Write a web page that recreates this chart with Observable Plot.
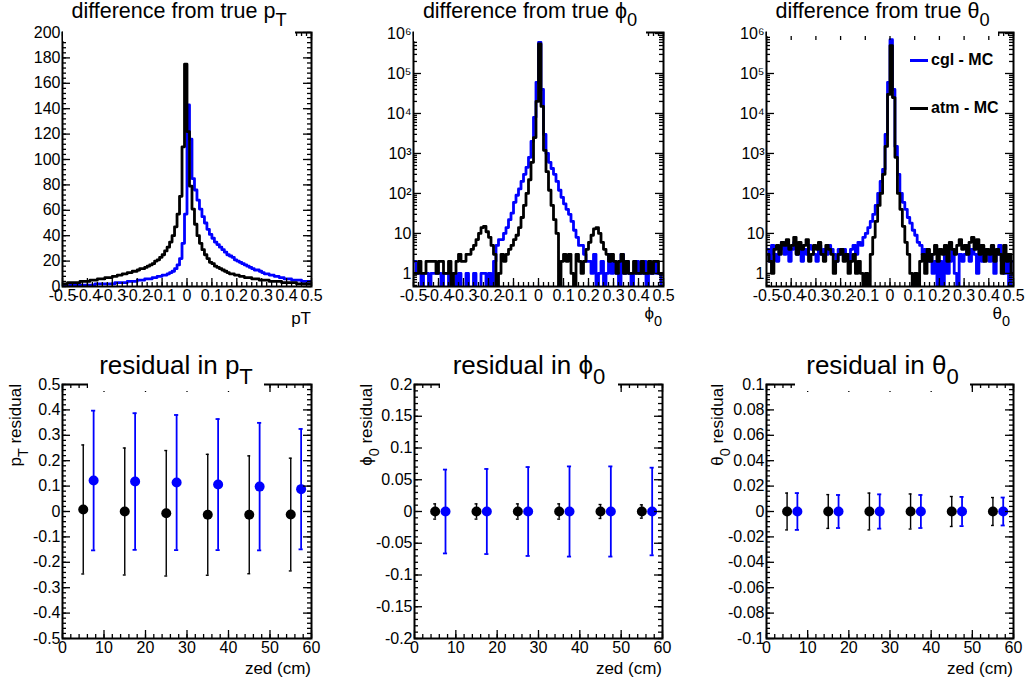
<!DOCTYPE html>
<html><head><meta charset="utf-8">
<script src="https://cdn.jsdelivr.net/npm/d3@7"></script>
<script src="https://cdn.jsdelivr.net/npm/@observablehq/plot@0.6"></script>
<style>
html,body{margin:0;padding:0;background:#fff;}
#root{position:relative;width:1026px;height:684px;overflow:hidden;background:#fff;font-family:"Liberation Sans",Arial,Helvetica,sans-serif;color:#000;}
#root svg{position:absolute;}
#root svg text{font-size:16px !important;font-family:"Liberation Sans",Arial,Helvetica,sans-serif;fill:#000;}
.lab{position:absolute;white-space:nowrap;z-index:3;color:#000;}
.title{position:absolute;background:#fff;z-index:2;text-align:center;white-space:nowrap;color:#000;}
.sub{font-size:0.85em;position:relative;top:0.45em;}
.ylab{position:absolute;z-index:3;white-space:nowrap;font-size:17px;line-height:18px;width:120px;text-align:right;transform-origin:0 0;transform:rotate(-90deg);}
.leg{position:absolute;z-index:3;font-weight:bold;font-size:16px;line-height:18px;white-space:nowrap;}
.legline{position:absolute;z-index:3;height:3px;width:18px;}
</style></head><body>
<div id="root">
  <div class="title" style="left:63px;top:0;width:232px;height:41px;font-size:21.5px;line-height:22px;">difference from true p<span class="sub">T</span></div>
  <div class="title" style="left:414px;top:0;width:232px;height:41px;font-size:21.5px;line-height:22px;">difference from true ϕ<span class="sub">0</span></div>
  <div class="title" style="left:767px;top:0;width:231px;height:36px;font-size:21.5px;line-height:22px;">difference from true θ<span class="sub">0</span></div>

  <div class="title" style="left:88px;top:340px;width:176px;height:51px;font-size:26px;line-height:28px;"><div style="padding-top:11px">residual in p<span class="sub">T</span></div></div>
  <div class="title" style="left:440px;top:340px;width:178px;height:55px;font-size:26px;line-height:28px;"><div style="padding-top:11px">residual in ϕ<span class="sub">0</span></div></div>
  <div class="title" style="left:795px;top:340px;width:175px;height:51px;font-size:26px;line-height:28px;"><div style="padding-top:11px">residual in θ<span class="sub">0</span></div></div>

  <div class="lab" style="right:715px;top:311px;font-size:17px;line-height:16px;">pT</div>
  <div class="lab" style="right:364px;top:306px;font-size:17px;line-height:16px;">ϕ<span class="sub">0</span></div>
  <div class="lab" style="right:16px;top:306px;font-size:17px;line-height:16px;">θ<span class="sub">0</span></div>

  <div class="lab" style="right:715px;top:661px;font-size:17px;line-height:16px;">zed (cm)</div>
  <div class="lab" style="right:364px;top:661px;font-size:17px;line-height:16px;">zed (cm)</div>
  <div class="lab" style="right:13px;top:661px;font-size:17px;line-height:16px;">zed (cm)</div>

  <div class="ylab" style="left:7px;top:504px;">p<span class="sub">T</span> residual</div>
  <div class="ylab" style="left:358px;top:504px;">ϕ<span class="sub">0</span> residual</div>
  <div class="ylab" style="left:709px;top:504px;">θ<span class="sub">0</span> residual</div>

  <div class="legline" style="left:910px;top:59px;background:#0000ff;"></div>
  <div class="leg" style="left:931px;top:51px;">cgl - MC</div>
  <div class="legline" style="left:910px;top:107px;background:#000;"></div>
  <div class="leg" style="left:931px;top:99px;">atm - MC</div>
</div>
<script>
// ---------------- DATA ----------------
// histogram bins: 100 bins of width 0.01 from -0.5 to 0.5
const binWidth = 0.01;
const binStart = -0.5;
const nBins = 100;

// difference from true pT
const cgl_pT = [
  0,0,0,1,1,1,1,1,1,1,
  1,1,1,2,2,2,2,2,2,2,
  2,3,3,3,3,3,4,4,4,4,
  5,5,5,6,6,6,7,7,8,8,
  9,9,10,11,12,14,17,22,34,57,
  143,116,85,76,68,61,55,50,45,41,
  38,35,33,31,29,27,25,24,23,21,
  20,19,18,17,16,15,14,13,13,12,
  11,10,10,9,9,8,8,7,7,6,
  6,6,5,5,5,5,4,4,4,4];
const atm_pT = [
  2,2,3,3,3,3,3,4,4,4,
  4,5,5,5,6,6,6,7,7,7,
  8,8,9,9,10,10,11,11,12,12,
  13,14,14,15,16,17,18,20,21,23,
  25,28,31,35,40,47,57,71,110,175,
  122,79,61,49,40,34,29,25,22,19,
  18,16,15,14,13,12,11,10,10,9,
  9,8,8,7,7,7,6,6,6,5,
  5,5,5,4,4,4,4,4,3,3,
  3,3,3,3,2,2,2,2,2,2];

// difference from true phi0
const cgl_phi = [
  2,1,1,0,1,1,0,1,1,1,
  1,0,1,1,0,1,1,0,1,0,
  0,1,0,0,1,0,0,1,1,0,
  1,0,2,5,7,7,10,14,22,32,
  60,90,130,200,300,450,800,2000,8000,60000,
  600000,40000,3000,1000,600,420,300,200,120,80,
  55,40,30,20,12,8,5,5,3,2,
  2,1,3,0,1,2,0,1,3,1,
  2,1,0,3,1,2,1,0,1,2,
  1,1,2,0,1,1,2,1,1,0];
const atm_phi = [
  1,1,2,1,1,2,2,2,2,1,
  2,2,1,1,2,0,1,2,3,2,
  2,3,3,4,5,7,10,14,15,11,
  8,5,3,0,1,3,2,3,4,5,
  7,9,14,25,50,100,220,600,2500,20000,
  550000,15000,1200,350,120,50,22,10,0,2,
  3,2,3,1,0,3,2,1,2,4,
  6,9,13,14,10,6,4,3,2,3,
  2,1,2,3,1,2,1,1,2,1,
  1,2,1,1,2,1,2,2,1,1];

// difference from true theta0
const cgl_theta = [
  4,2,5,3,2,4,6,3,5,2,
  4,6,3,5,2,4,3,5,4,3,
  2,5,3,4,3,5,4,3,2,4,
  3,4,3,2,4,5,3,6,5,8,
  10,14,20,30,50,100,200,400,3000,60000,
  700000,40000,1500,300,100,60,40,25,18,12,
  9,6,5,3,4,2,3,1,2,0,
  2,0,3,1,2,4,1,0,3,2,
  3,5,2,4,3,1,5,2,4,3,
  2,4,1,3,5,2,1,3,0,2];
const atm_theta = [
  3,2,1,4,5,3,6,5,7,4,
  5,8,3,6,4,5,7,2,3,5,
  4,6,3,2,5,4,3,1,2,3,
  4,2,3,1,2,3,1,2,1,0,
  1,0,3,8,20,50,100,300,1500,30000,
  500000,25000,800,100,40,15,6,3,1,0,
  1,0,2,3,1,4,2,3,5,2,
  4,3,5,2,6,4,3,5,7,4,
  5,3,6,8,4,7,3,5,2,4,
  3,5,2,4,3,1,5,2,3,1];

// residuals vs zed
const zedAtm = [5, 15, 25, 35, 45, 55];
const zedCgl = [7.5, 17.5, 27.5, 37.5, 47.5, 57.5];
const ptAtmMean = [0.008, 0.0, -0.007, -0.013, -0.013, -0.012];
const ptAtmErr  = [0.254, 0.25, 0.247, 0.238, 0.232, 0.222];
const ptCglMean = [0.122, 0.118, 0.114, 0.106, 0.098, 0.088];
const ptCglErr  = [0.275, 0.269, 0.266, 0.258, 0.251, 0.237];
const phiAtmMean = [0, 0, 0, 0, 0, 0];
const phiAtmErr  = [0.012, 0.012, 0.012, 0.012, 0.011, 0.0105];
const phiCglMean = [0, 0, 0, 0, 0, 0];
const phiCglErr  = [0.066, 0.067, 0.070, 0.071, 0.071, 0.069];
const thetaAtmMean = [0, 0, 0, 0, 0, 0];
const thetaAtmErr  = [0.0145, 0.0133, 0.0145, 0.0138, 0.0118, 0.011];
const thetaCglMean = [0, 0, 0, 0, 0, 0];
const thetaCglErr  = [0.0145, 0.013, 0.0135, 0.013, 0.0115, 0.011];

// tick labels
const histXTicks = [-0.5,-0.4,-0.3,-0.2,-0.1,0,0.1,0.2,0.3,0.4,0.5];
const ptYTicks = [0,20,40,60,80,100,120,140,160,180,200];
const logYTicks = [1,10,100,1000,10000,100000,1000000];
const zedTicks = [0,10,20,30,40,50,60];
const ptResTicks = [-0.5,-0.4,-0.3,-0.2,-0.1,0,0.1,0.2,0.3,0.4,0.5];
const phiResTicks = [-0.2,-0.15,-0.1,-0.05,0,0.05,0.1,0.15,0.2];
const thetaResTicks = [-0.1,-0.08,-0.06,-0.04,-0.02,0,0.02,0.04,0.06,0.08,0.1];

const BLUE = "#0000ff";
const BLACK = "#000000";
const FONT = '"Liberation Sans", Arial, Helvetica, sans-serif';

// ---------------- HELPERS ----------------
const r = (v) => +v.toFixed(5);
const minorRange = (a, b, step) => d3.range(0, Math.round((b - a) / step) + 1).map(i => r(a + i * step));
const logMinor = [0.5,0.6,0.7,0.8,0.9].concat(...d3.range(0, 6).map(k => d3.range(2, 10).map(m => m * Math.pow(10, k))));
const sup = {"2":"²","3":"³","4":"⁴","5":"⁵","6":"⁶"};
const logFmt = d => d === 1 ? "1" : d === 10 ? "10" : "10" + sup[String(Math.round(Math.log10(d)))];
const numFmt = d => String(r(d));

function histPoints(values, floor) {
  const pts = [];
  values.forEach((v, i) => {
    const lo = binStart + i * binWidth;
    const y = Math.max(v, floor);
    pts.push({x: r(lo), y});
    pts.push({x: r(lo + binWidth), y});
  });
  return pts;
}

function errMarks(zs, means, errs, color, sw, capHalf) {
  const data = zs.map((z, i) => ({z, m: means[i], e: errs[i]}));
  return [
    Plot.ruleX(data, {x: "z", y1: d => d.m - d.e, y2: d => d.m + d.e, stroke: color, strokeWidth: sw}),
    Plot.ruleY(data, {y: d => d.m + d.e, x1: d => d.z - capHalf, x2: d => d.z + capHalf, stroke: color, strokeWidth: sw}),
    Plot.ruleY(data, {y: d => d.m - d.e, x1: d => d.z - capHalf, x2: d => d.z + capHalf, stroke: color, strokeWidth: sw}),
    Plot.dot(data, {x: "z", y: "m", r: 5, fill: color, stroke: null})
  ];
}

const root = document.getElementById("root");

function panel(cfg) {
  const mL = 60, mR = 14, mT = 8, mB = 30;
  const fw = cfg.fw, fh = 254;
  const MAJ = 8, MIN = 4;
  const tickStyle = {stroke: BLACK, strokeWidth: 1.3};
  const marks = [
    ...cfg.marks,
    Plot.tickX(cfg.xMinor, {x: d => d, insetTop: fh - MIN, ...tickStyle}),
    Plot.tickX(cfg.xMinor, {x: d => d, insetBottom: fh - MIN, ...tickStyle}),
    Plot.tickX(cfg.xMajor, {x: d => d, insetTop: fh - MAJ, ...tickStyle}),
    Plot.tickX(cfg.xMajor, {x: d => d, insetBottom: fh - MAJ, ...tickStyle}),
    Plot.tickY(cfg.yMinor, {y: d => d, insetRight: fw - MIN, ...tickStyle}),
    Plot.tickY(cfg.yMinor, {y: d => d, insetLeft: fw - MIN, ...tickStyle}),
    Plot.tickY(cfg.yMajor, {y: d => d, insetRight: fw - MAJ, ...tickStyle}),
    Plot.tickY(cfg.yMajor, {y: d => d, insetLeft: fw - MAJ, ...tickStyle}),
    Plot.frame({stroke: BLACK, strokeWidth: 2}),
    Plot.axisX(cfg.xMajor, {tickSize: 0, tickPadding: 3, tickFormat: cfg.xFmt, fontSize: 16, label: null}),
    Plot.axisY(cfg.yMajor, {tickSize: 0, tickPadding: 2, tickFormat: cfg.yFmt, fontSize: 16, label: null})
  ];
  const svg = Plot.plot({
    width: fw + mL + mR, height: fh + mT + mB,
    marginLeft: mL, marginRight: mR, marginTop: mT, marginBottom: mB,
    x: {domain: cfg.xDomain},
    y: {type: cfg.yType || "linear", domain: cfg.yDomain},
    style: {fontFamily: FONT, fontSize: "16px", color: "black", background: "transparent", overflow: "visible"},
    marks
  });
  svg.style.left = (cfg.left - mL) + "px";
  svg.style.top = (cfg.top - mT) + "px";
  root.appendChild(svg);
}

const histXMinor = minorRange(-0.5, 0.5, 0.02);
const LOG_DOMAIN = [0.47, 1.06e6];

// top-left: pT difference
panel({
  left: 62, top: 32, fw: 249,
  xDomain: [-0.5, 0.5], yDomain: [0, 200],
  xMajor: histXTicks, xMinor: histXMinor, xFmt: numFmt,
  yMajor: ptYTicks, yMinor: minorRange(0, 200, 4), yFmt: numFmt,
  marks: [
    Plot.line(histPoints(cgl_pT, 0), {x: "x", y: "y", stroke: BLUE, strokeWidth: 2.8, clip: true}),
    Plot.line(histPoints(atm_pT, 0), {x: "x", y: "y", stroke: BLACK, strokeWidth: 2.8, clip: true})
  ]
});

// top-middle: phi0 difference
panel({
  left: 413, top: 32, fw: 250,
  xDomain: [-0.5, 0.5], yDomain: LOG_DOMAIN, yType: "log",
  xMajor: histXTicks, xMinor: histXMinor, xFmt: numFmt,
  yMajor: logYTicks, yMinor: logMinor, yFmt: logFmt,
  marks: [
    Plot.line(histPoints(cgl_phi, 0.2), {x: "x", y: "y", stroke: BLUE, strokeWidth: 2.8, clip: true}),
    Plot.line(histPoints(atm_phi, 0.2), {x: "x", y: "y", stroke: BLACK, strokeWidth: 2.8, clip: true})
  ]
});

// top-right: theta0 difference
panel({
  left: 766, top: 32, fw: 247,
  xDomain: [-0.5, 0.5], yDomain: LOG_DOMAIN, yType: "log",
  xMajor: histXTicks, xMinor: histXMinor, xFmt: numFmt,
  yMajor: logYTicks, yMinor: logMinor, yFmt: logFmt,
  marks: [
    Plot.line(histPoints(cgl_theta, 0.2), {x: "x", y: "y", stroke: BLUE, strokeWidth: 2.8, clip: true}),
    Plot.line(histPoints(atm_theta, 0.2), {x: "x", y: "y", stroke: BLACK, strokeWidth: 2.8, clip: true})
  ]
});

const zedMinor = minorRange(0, 60, 2);

// bottom-left: pT residual
panel({
  left: 62, top: 384, fw: 249,
  xDomain: [0, 60], yDomain: [-0.5, 0.5],
  xMajor: zedTicks, xMinor: zedMinor, xFmt: numFmt,
  yMajor: ptResTicks, yMinor: minorRange(-0.5, 0.5, 0.02), yFmt: numFmt,
  marks: [
    ...errMarks(zedAtm, ptAtmMean, ptAtmErr, BLACK, 1.4, 0.35),
    ...errMarks(zedCgl, ptCglMean, ptCglErr, BLUE, 1.8, 0.5)
  ]
});

// bottom-middle: phi0 residual
panel({
  left: 414, top: 384, fw: 248,
  xDomain: [0, 60], yDomain: [-0.2, 0.2],
  xMajor: zedTicks, xMinor: zedMinor, xFmt: numFmt,
  yMajor: phiResTicks, yMinor: minorRange(-0.2, 0.2, 0.01), yFmt: numFmt,
  marks: [
    ...errMarks(zedAtm, phiAtmMean, phiAtmErr, BLACK, 1.4, 0.35),
    ...errMarks(zedCgl, phiCglMean, phiCglErr, BLUE, 1.8, 0.5)
  ]
});

// bottom-right: theta0 residual
panel({
  left: 766, top: 384, fw: 247,
  xDomain: [0, 60], yDomain: [-0.1, 0.1],
  xMajor: zedTicks, xMinor: zedMinor, xFmt: numFmt,
  yMajor: thetaResTicks, yMinor: minorRange(-0.1, 0.1, 0.004), yFmt: numFmt,
  marks: [
    ...errMarks(zedAtm, thetaAtmMean, thetaAtmErr, BLACK, 1.4, 0.35),
    ...errMarks(zedCgl, thetaCglMean, thetaCglErr, BLUE, 1.8, 0.5)
  ]
});
</script>
</body></html>
